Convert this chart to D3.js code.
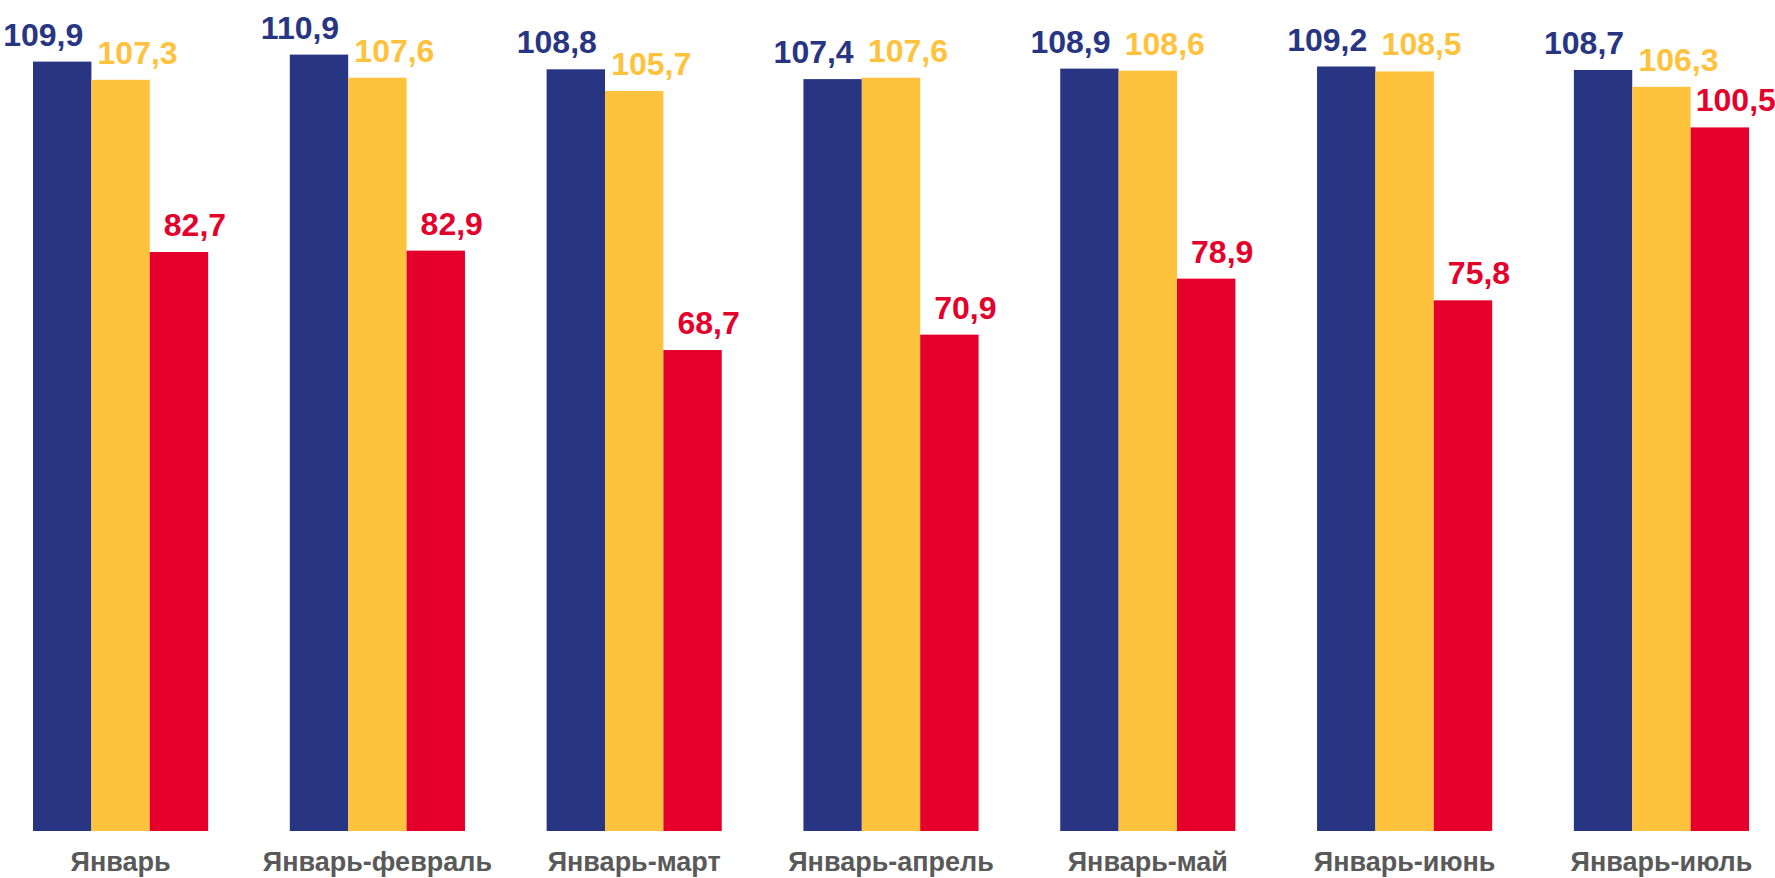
<!DOCTYPE html>
<html>
<head>
<meta charset="utf-8">
<script src="https://cdn.jsdelivr.net/npm/d3@7"></script>
<style>
  body { margin: 0; background: #fff; }
  text { font-family: Arial, "Liberation Sans", sans-serif; font-weight: bold; }
</style>
</head>
<body>
<div class="chart"></div>
<script>
// data
var periods = ['Январь', 'Январь-февраль', 'Январь-март', 'Январь-апрель', 'Январь-май', 'Январь-июнь', 'Январь-июль']
var seriesBlue = [109.9, 110.9, 108.8, 107.4, 108.9, 109.2, 108.7]
var seriesYellow = [107.3, 107.6, 105.7, 107.6, 108.6, 108.5, 106.3]
var seriesRed = [82.7, 82.9, 68.7, 70.9, 78.9, 75.8, 100.5]

var width = 1775, height = 878
var colors = ['#283583', '#FFC23D', '#E4002B']
// label shift for each series, like the hand-moved labels in the original
var labelDx = [-19, 17, 16]

var svg = d3.select('.chart')
    .append('svg')
    .attr('width', width)
    .attr('height', height)

var x = d3.scaleBand()
    .domain(periods)
    .range([33, 1749])
    .paddingInner(0.318)
    .paddingOuter(0)

var sub = d3.scaleBand()
    .domain([0, 1, 2])
    .range([0, x.bandwidth()])

var y = d3.scaleLinear()
    .domain([0, 118.7])
    .range([831, 0])

var series = [seriesBlue, seriesYellow, seriesRed]

series.forEach(function(vals, s) {
    var g = svg.append('g').attr('class', 'series' + s)

    g.selectAll('rect')
        .data(vals)
        .enter()
        .append('rect')
        .attr('x', function(d, i) { return x(periods[i]) + sub(s) })
        .attr('y', function(d) { return y(d) })
        .attr('width', sub.bandwidth())
        .attr('height', function(d) { return y(0) - y(d) })
        .attr('fill', colors[s])

    g.selectAll('text')
        .data(vals)
        .enter()
        .append('text')
        .attr('x', function(d, i) { return x(periods[i]) + sub(s) + sub.bandwidth() / 2 + labelDx[s] })
        .attr('y', function(d) { return y(d) - 16 })
        .attr('text-anchor', 'middle')
        .style('font-size', '32px')
        .attr('fill', colors[s])
        .text(function(d) { return d.toFixed(1).replace('.', ',') })
})

// category axis
var xAxis = svg.append('g')
    .attr('transform', 'translate(0,' + y(0) + ')')
    .call(d3.axisBottom(x).tickSize(0).tickPadding(40))
xAxis.select('.domain').remove()
xAxis.selectAll('text')
    .style('font-size', '27px')
    .attr('fill', '#595959')
    .attr('dy', 0)
</script>
</body>
</html>
